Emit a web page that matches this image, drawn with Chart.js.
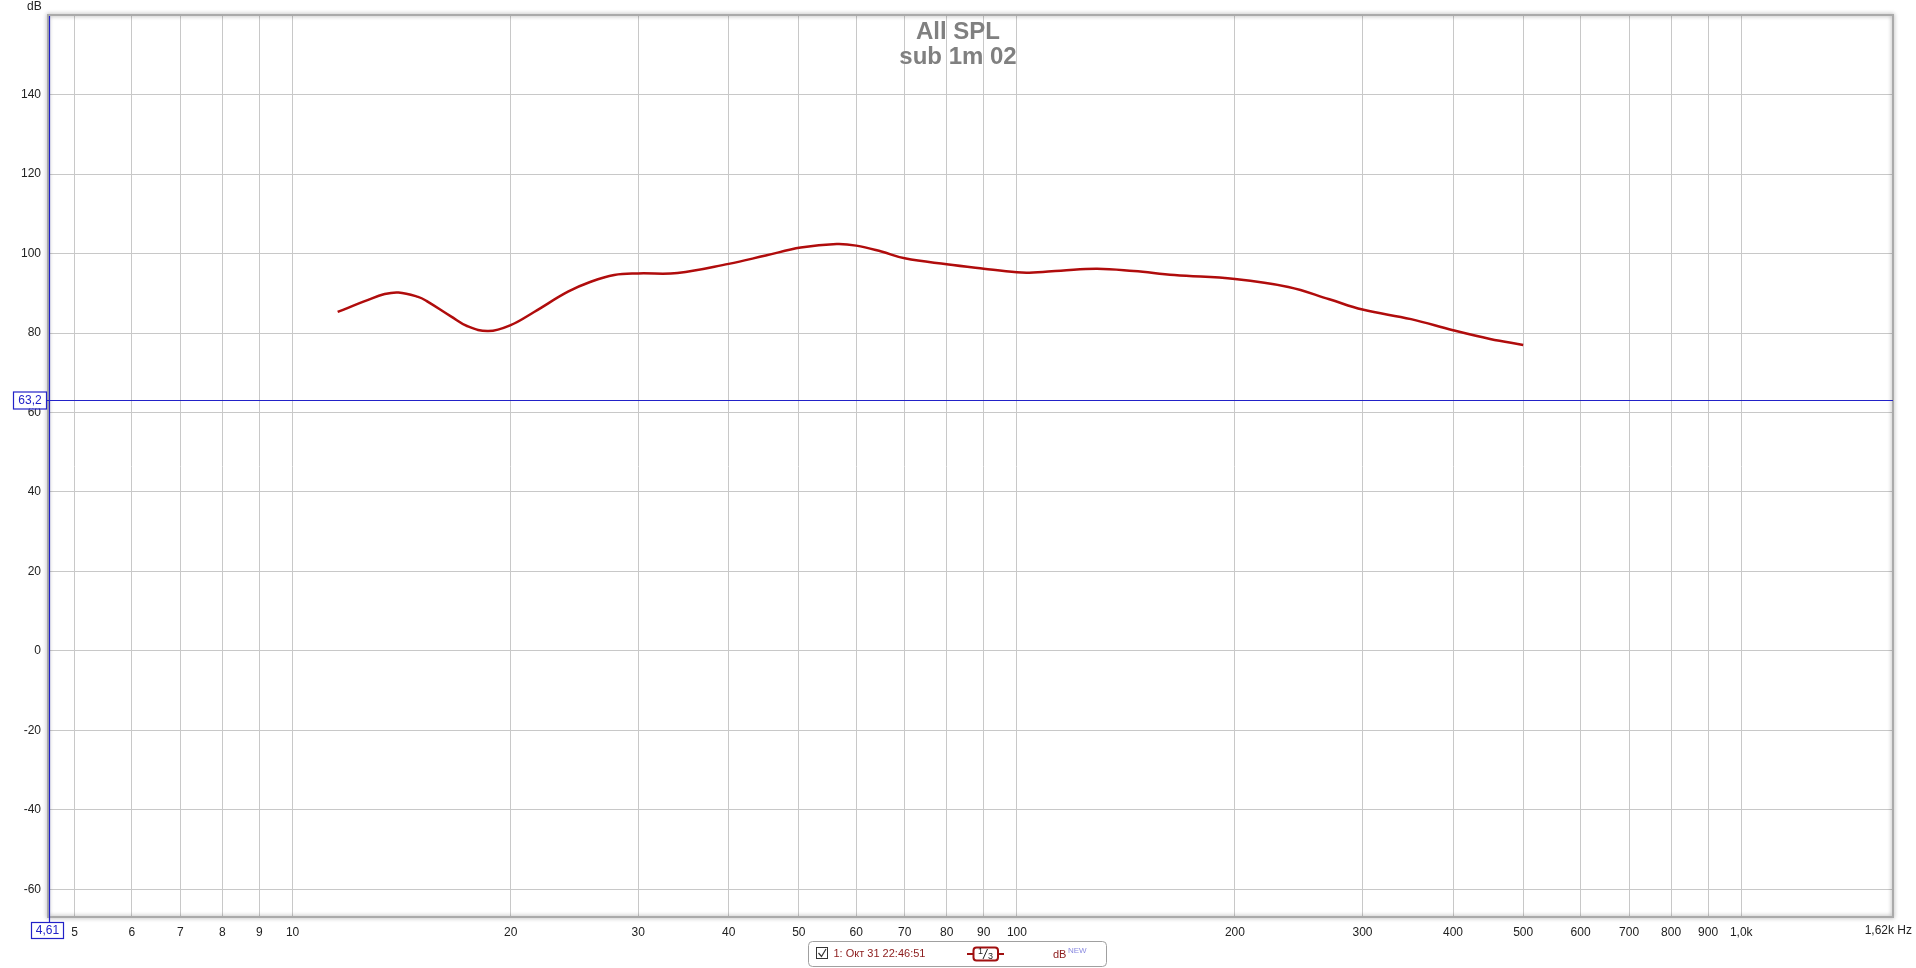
<!DOCTYPE html>
<html lang="ru">
<head>
<meta charset="UTF-8">
<title>All SPL - sub 1m 02</title>
<script src="https://cdn.jsdelivr.net/npm/chart.js"></script>
<style>
    html, body { margin: 0; padding: 0; background: #fff; }
    #wrap { width: 1916px; height: 968px; }
</style>
</head>
<body>
<div id="wrap"><canvas id="splChart"></canvas></div>
<script>
const freqHz = [11.54, 12.69, 13.4, 14.0, 14.9, 15.3, 16.54, 17.44, 18.64, 20, 21.55, 24, 25.8, 27.8, 30, 34, 40, 45, 50.3, 56.4, 60, 65, 70, 80, 90, 100, 104, 115, 129, 145, 165, 200, 237, 270, 300, 350, 400, 450, 500];
const splDb = [85.3, 88.3, 89.8, 90.2, 89.1, 88.1, 84.2, 81.7, 80.5, 82.0, 85.3, 90.4, 92.9, 94.6, 95.0, 95.1, 97.4, 99.5, 101.5, 102.4, 102.0, 100.5, 98.8, 97.3, 96.2, 95.3, 95.2, 95.7, 96.2, 95.6, 94.6, 93.6, 91.6, 88.5, 85.9, 83.5, 80.7, 78.5, 77.0];

const xTicks = [5, 6, 7, 8, 9, 10, 20, 30, 40, 50, 60, 70, 80, 90, 100, 200, 300, 400, 500, 600, 700, 800, 900, 1000];
const yTicks = [-60, -40, -20, 0, 20, 40, 60, 80, 100, 120, 140];
const xRange = [4.61, 1620];
const yRange = [-67, 159.8];
const cursorHz = 4.61;
const cursorDb = 63.2;
const titleLines = ['All SPL', 'sub 1m 02'];
const legendText = '1: Окт 31 22:46:51';

const FONT = "'Liberation Sans', Arial, sans-serif";
const BLUE = '#2222c8';
const RED = '#b00c0c';

function fmtHz(v) {
    if (v >= 1000) return (v / 1000).toFixed(1).replace('.', ',') + 'k';
    return String(v);
}

function roundRect(ctx, x, y, w, h, r) {
    ctx.beginPath();
    ctx.moveTo(x + r, y);
    ctx.arcTo(x + w, y, x + w, y + h, r);
    ctx.arcTo(x + w, y + h, x, y + h, r);
    ctx.arcTo(x, y + h, x, y, r);
    ctx.arcTo(x, y, x + w, y, r);
    ctx.closePath();
}

// frame, cursors, title, legend box
const overlay = {
    id: 'overlay',
    afterDraw(chart) {
        const ctx = chart.ctx;
        const a = chart.chartArea;
        const xs = chart.scales.x, ys = chart.scales.y;
        ctx.save();

        // inset frame with soft shadow
        ctx.shadowColor = 'rgba(0,0,0,0.4)';
        ctx.shadowBlur = 4;
        ctx.strokeStyle = '#aaaaaa';
        ctx.lineWidth = 2;
        ctx.strokeRect(a.left - 1, a.top - 1, a.right - a.left + 1, a.bottom - a.top + 1);
        ctx.shadowColor = 'transparent';
        ctx.shadowBlur = 0;

        // cursors
        const cx = Math.round(xs.getPixelForValue(cursorHz)) + 0.5;
        const cy = Math.round(ys.getPixelForValue(cursorDb)) + 0.5;
        ctx.strokeStyle = BLUE;
        ctx.lineWidth = 1.2;
        ctx.beginPath();
        ctx.moveTo(cx, a.top);
        ctx.lineTo(cx, 922);
        ctx.moveTo(47, cy);
        ctx.lineTo(a.right, cy);
        ctx.stroke();

        ctx.fillStyle = '#fff';
        ctx.fillRect(14, cy - 8, 33, 16);
        ctx.fillRect(32, 922, 32, 16);
        ctx.lineWidth = 1.2;
        ctx.strokeRect(13.5, cy - 8.5, 33, 17);
        ctx.strokeRect(31.5, 922.5, 32, 16);
        ctx.fillStyle = BLUE;
        ctx.font = '12px ' + FONT;
        ctx.textAlign = 'center';
        ctx.textBaseline = 'middle';
        ctx.fillText(String(cursorDb).replace('.', ','), 30, cy + 0.5);
        ctx.fillText(String(cursorHz).replace('.', ','), 47.5, 931);

        // axis units
        ctx.fillStyle = '#222';
        ctx.textAlign = 'right';
        ctx.fillText('dB', 41.7, 7);
        ctx.fillText(fmtHz(xRange[1]).replace('1,6k', '1,62k') + ' Hz', 1912, 931);

        // title
        ctx.fillStyle = '#808080';
        ctx.font = 'bold 24px ' + FONT;
        ctx.textAlign = 'center';
        ctx.fillText(titleLines[0], 958, 32);
        ctx.fillText(titleLines[1], 958, 57.5);

        // legend strip
        ctx.fillStyle = '#fff';
        roundRect(ctx, 808.5, 941.5, 298, 25, 4);
        ctx.fill();
        ctx.strokeStyle = '#a0a0a0';
        ctx.lineWidth = 1;
        ctx.stroke();

        ctx.strokeStyle = '#333';
        ctx.strokeRect(816.5, 947.5, 11, 11);
        ctx.beginPath();
        ctx.moveTo(818.5, 953);
        ctx.lineTo(821.5, 956.5);
        ctx.lineTo(826, 949);
        ctx.lineWidth = 1.2;
        ctx.stroke();

        ctx.fillStyle = '#8b1a1a';
        ctx.font = '11px ' + FONT;
        ctx.textAlign = 'left';
        ctx.fillText(legendText, 833.5, 954);

        ctx.strokeStyle = '#a01010';
        ctx.lineWidth = 2;
        ctx.beginPath();
        ctx.moveTo(967, 954);
        ctx.lineTo(973.5, 954);
        ctx.moveTo(998, 954);
        ctx.lineTo(1004, 954);
        ctx.stroke();
        roundRect(ctx, 973.5, 947.5, 24.5, 13, 3);
        ctx.stroke();
        ctx.fillStyle = '#222';
        ctx.font = '9px ' + FONT;
        ctx.textAlign = 'center';
        ctx.fillText('1', 980.5, 951.5);
        ctx.fillText('3', 990.5, 956.5);
        ctx.strokeStyle = '#222';
        ctx.lineWidth = 1;
        ctx.beginPath();
        ctx.moveTo(983, 959);
        ctx.lineTo(987.5, 949);
        ctx.stroke();

        ctx.fillStyle = '#8b1a1a';
        ctx.font = '11px ' + FONT;
        ctx.textAlign = 'left';
        ctx.fillText('dB', 1053, 955);
        ctx.fillStyle = '#8a8ae0';
        ctx.font = '8px ' + FONT;
        ctx.fillText('NEW', 1068, 950.5);

        ctx.restore();
    }
};

const points = freqHz.map((f, i) => ({ x: f, y: splDb[i] }));

new Chart(document.getElementById('splChart'), {
    type: 'line',
    data: {
        datasets: [{
            data: points,
            borderColor: RED,
            borderWidth: 2.5,
            pointRadius: 0,
            fill: false,
            tension: 0.4
        }]
    },
    options: {
        responsive: true,
        maintainAspectRatio: false,
        animation: false,
        events: [],
        layout: { padding: { top: 16, right: 23, left: 0, bottom: 0 } },
        plugins: {
            legend: { display: false },
            tooltip: { enabled: false }
        },
        scales: {
            x: {
                type: 'logarithmic',
                min: xRange[0],
                max: xRange[1],
                afterBuildTicks: s => { s.ticks = xTicks.map(v => ({ value: v })); },
                afterFit: s => { s.height = 51; },
                border: { display: false },
                grid: { color: '#c8c8c8', lineWidth: 1, drawTicks: false },
                ticks: {
                    autoSkip: false,
                    maxRotation: 0,
                    padding: 8,
                    color: '#222',
                    font: { family: FONT, size: 12 },
                    callback: v => fmtHz(v)
                }
            },
            y: {
                type: 'linear',
                min: yRange[0],
                max: yRange[1],
                afterBuildTicks: s => { s.ticks = yTicks.map(v => ({ value: v })); },
                afterFit: s => { s.width = 49; },
                border: { display: false },
                grid: { color: '#c8c8c8', lineWidth: 1, drawTicks: false },
                ticks: {
                    padding: 8,
                    color: '#222',
                    font: { family: FONT, size: 12 }
                }
            }
        }
    },
    plugins: [overlay]
});
</script>
</body>
</html>
